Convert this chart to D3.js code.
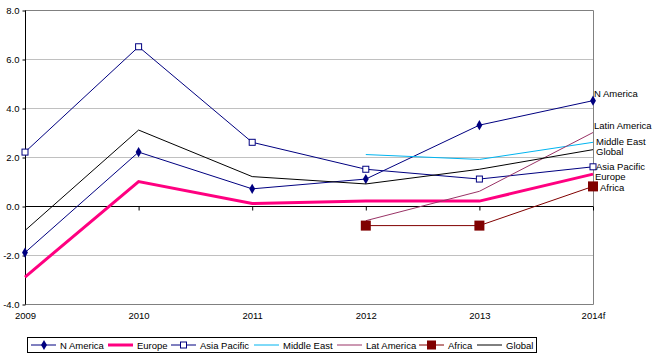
<!DOCTYPE html>
<html>
<head>
<meta charset="utf-8">
<script src="https://cdn.jsdelivr.net/npm/d3@7"></script>
<style>
  body { margin: 0; background: #fff; }
  text { font-family: Arial, "Liberation Sans", sans-serif; }
</style>
</head>
<body>
<div id="chart"></div>
<script>
// categories and series values (growth, %)
const years = ["2009", "2010", "2011", "2012", "2013", "2014f"];
const nAmerica    = [-1.9, 2.2, 0.7, 1.1, 3.3, 4.3];
const europe      = [-2.9, 1.0, 0.1, 0.2, 0.2, 1.3];
const asiaPacific = [2.2, 6.5, 2.6, 1.5, 1.1, 1.6];
const middleEast  = [null, null, null, 2.1, 1.9, 2.6];
const latAmerica  = [null, null, null, -0.6, 0.6, 3.0];
const africa      = [null, null, null, -0.8, -0.8, 0.8];
const global      = [-1.0, 3.1, 1.2, 0.9, 1.5, 2.3];
const yTicks = [-4, -2, 0, 2, 4, 6, 8];

const series = [
  {name: "N America", legend: "N America", values: nAmerica, color: "#000080", width: 1, marker: "diamond"},
  {name: "Europe", legend: "Europe", values: europe, color: "#FF0080", width: 3, marker: null},
  {name: "Asia Pacific", legend: "Asia Pacific", values: asiaPacific, color: "#000080", width: 1, marker: "hollow"},
  {name: "Middle East", legend: "Middle East", values: middleEast, color: "#00B4F0", width: 1, marker: null},
  {name: "Latin America", legend: "Lat America", values: latAmerica, color: "#993366", width: 1, marker: null},
  {name: "Africa", legend: "Africa", values: africa, color: "#800000", width: 1, marker: "bigsquare"},
  {name: "Global", legend: "Global", values: global, color: "#000000", width: 1, marker: null}
];

// end labels, nudged a bit like the original
const endLabels = [
  {name: "N America", dx: 1, dy: -7},
  {name: "Latin America", dx: 1, dy: -7},
  {name: "Middle East", dx: 3, dy: -1},
  {name: "Global", dx: 3, dy: 2},
  {name: "Asia Pacific", dx: 3, dy: 0},
  {name: "Europe", dx: 2, dy: 2.5},
  {name: "Africa", dx: 7, dy: 1}
];

const width = 657, height = 359;
const plot = {left: 25, right: 593, top: 10, bottom: 304};

const svg = d3.select("#chart").append("svg")
    .attr("width", width)
    .attr("height", height);

// scales
let x = d3.scalePoint()
    .domain(years)
    .range([plot.left, plot.right]);
let y = d3.scaleLinear()
    .domain([-4, 8])
    .range([plot.bottom, plot.top]);

//////// gridlines + plot border
svg.append("g").selectAll("line")
    .data(yTicks.filter(d => d !== -4 && d !== 8))
    .enter().append("line")
    .attr("x1", plot.left).attr("x2", plot.right)
    .attr("y1", d => Math.round(y(d)) + 0.5).attr("y2", d => Math.round(y(d)) + 0.5)
    .attr("stroke", "#C0C0C0");

svg.append("path")
    .attr("d", "M" + plot.left + "," + (plot.top + 0.5) + "H" + (plot.right + 0.5) +
               "V" + (plot.bottom + 0.5) + "H" + plot.left)
    .attr("fill", "none")
    .attr("stroke", "#808080");

//////// y axis
let yAxis = d3.axisLeft(y).tickValues(yTicks).tickSize(3).tickFormat(d3.format(".1f"));
let gy = svg.append("g")
    .attr("transform", "translate(" + (plot.left + 0.5) + ",0.5)")
    .call(yAxis);
gy.select(".domain").remove();
gy.append("line").attr("y1", y(8)).attr("y2", y(-4)).attr("stroke", "#000");
gy.selectAll(".tick line").attr("stroke", "#000");
gy.selectAll("text")
    .attr("x", -6)
    .attr("font-size", 9.5)
    .attr("fill", "#000")
    .text(d => d3.format(".1f")(d).replace("\u2212", "-"));

//////// x axis at zero
let gx = svg.append("g")
    .attr("transform", "translate(0," + (Math.round(y(0)) + 0.5) + ")")
    .call(d3.axisBottom(x).tickSize(4).tickFormat(""));
gx.select(".domain").attr("d", "M" + plot.left + ",0H" + plot.right);
gx.selectAll("line").attr("stroke", "#000");

svg.append("g").selectAll("text")
    .data(years)
    .enter().append("text")
    .attr("x", d => x(d) + 0.5)
    .attr("y", 319)
    .attr("text-anchor", "middle")
    .attr("font-size", 9.5)
    .text(d => d);

//////// lines
let line = d3.line()
    .defined(d => d.v !== null)
    .x(d => x(d.year))
    .y(d => y(d.v));

series.forEach(s => {
    let pts = s.values.map((v, i) => ({year: years[i], v: v}));
    svg.append("path")
        .datum(pts)
        .attr("fill", "none")
        .attr("stroke", s.color)
        .attr("stroke-width", s.width)
        .attr("d", line);

    let valid = pts.filter(d => d.v !== null);
    if (s.marker === "diamond") {
        svg.append("g").selectAll("path").data(valid).enter().append("path")
            .attr("d", d3.symbol().type(d3.symbolDiamond).size(30))
            .attr("transform", d => "translate(" + x(d.year) + "," + y(d.v) + ")")
            .attr("fill", s.color);
    } else if (s.marker === "hollow") {
        svg.append("g").selectAll("rect").data(valid).enter().append("rect")
            .attr("x", d => x(d.year) - 3).attr("y", d => y(d.v) - 3)
            .attr("width", 6).attr("height", 6)
            .attr("fill", "#fff").attr("stroke", s.color);
    } else if (s.marker === "bigsquare") {
        svg.append("g").selectAll("rect").data(valid).enter().append("rect")
            .attr("x", d => x(d.year) - 5).attr("y", d => y(d.v) - 5)
            .attr("width", 10).attr("height", 10)
            .attr("fill", s.color);
    }
});

//////// end labels
let last = years.length - 1;
svg.append("g").selectAll("text")
    .data(endLabels)
    .enter().append("text")
    .attr("x", d => x(years[last]) + d.dx)
    .attr("y", d => {
        let s = series.find(e => e.name === d.name);
        return y(s.values[last]) + d.dy + 3.5;
    })
    .attr("font-size", 9.5)
    .text(d => d.name);

//////// legend
let lg = svg.append("g");
lg.append("rect")
    .attr("x", 27.5).attr("y", 337.5)
    .attr("width", 509).attr("height", 15)
    .attr("fill", "#fff").attr("stroke", "#000");

const legendX = [31, 108, 171, 254, 337, 419, 477];
series.forEach((s, i) => {
    let lx = legendX[i], ly = 345;
    lg.append("line")
        .attr("x1", lx).attr("x2", lx + 25)
        .attr("y1", ly).attr("y2", ly)
        .attr("stroke", s.color).attr("stroke-width", s.width);
    if (s.marker === "diamond") {
        lg.append("path").attr("d", d3.symbol().type(d3.symbolDiamond).size(30))
            .attr("transform", "translate(" + (lx + 13) + "," + ly + ")").attr("fill", s.color);
    } else if (s.marker === "hollow") {
        lg.append("rect").attr("x", lx + 9.5).attr("y", ly - 3).attr("width", 6).attr("height", 6)
            .attr("fill", "#fff").attr("stroke", s.color);
    } else if (s.marker === "bigsquare") {
        lg.append("rect").attr("x", lx + 8).attr("y", ly - 4.5).attr("width", 9).attr("height", 9)
            .attr("fill", s.color);
    }
    lg.append("text")
        .attr("x", lx + 29).attr("y", ly + 3.5)
        .attr("font-size", 9.5)
        .text(s.legend);
});
</script>
</body>
</html>
